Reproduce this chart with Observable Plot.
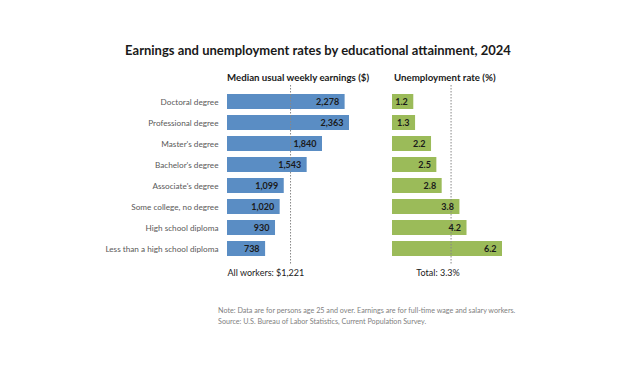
<!DOCTYPE html>
<html>
<head>
<meta charset="utf-8">
<script src="https://cdn.jsdelivr.net/npm/d3@7"></script>
<script src="https://cdn.jsdelivr.net/npm/@observablehq/plot@0.6"></script>
<style>
  html, body { margin: 0; padding: 0; background: #fff; }
  body { width: 636px; height: 376px; position: relative; overflow: hidden; font-family: Lato, "Open Sans", sans-serif; }
  .abs { position: absolute; white-space: nowrap; }
  #title { left: 0; width: 636px; top: 42px; text-align: center; font-weight: bold; font-size: 13px; color: #1a1a1a; }
  .head { top: 71px; font-weight: bold; font-size: 9.7px; color: #1a1a1a; }
  #note { left: 218px; top: 305px; font-size: 7.2px; color: #7f7f7f; line-height: 11px; }
  #left, #right { position: absolute; top: 85px; }
  #left { left: 0; }
  #right { left: 370px; }
</style>
</head>
<body>
<div id="title" class="abs">Earnings and unemployment rates by educational attainment, 2024</div>
<div class="abs head" style="left:227px">Median usual weekly earnings ($)</div>
<div class="abs head" style="left:394px">Unemployment rate (%)</div>
<div id="left"></div>
<div id="right"></div>
<div id="note" class="abs">Note: Data are for persons age 25 and over. Earnings are for full-time wage and salary workers.<br>Source: U.S. Bureau of Labor Statistics, Current Population Survey.</div>
<script>
const categories = ["Doctoral degree", "Professional degree", "Master's degree", "Bachelor's degree", "Associate's degree", "Some college, no degree", "High school diploma", "Less than a high school diploma"];
const earnings = [2278, 2363, 1840, 1543, 1099, 1020, 930, 738];
const unemployment = [1.2, 1.3, 2.2, 2.5, 2.8, 3.8, 4.2, 6.2];
const allWorkersEarnings = 1221;
const totalUnemployment = 3.3;

const rows = categories.map((c, i) => ({cat: c, earn: earnings[i], unemp: unemployment[i]}));
const fmt = d3.format(",");
const font = "Lato, 'Open Sans', sans-serif";

const left = Plot.plot({
  width: 370, height: 200,
  marginLeft: 227, marginRight: 21, marginTop: 0, marginBottom: 21,
  style: {fontFamily: font, fontSize: "8.2px", color: "#595959", background: "white"},
  x: {domain: [0, 2363], axis: null},
  y: {domain: categories, padding: 0.3, label: null, tickSize: 0, tickPadding: 9},
  marks: [
    Plot.barX(rows, {x: "earn", y: "cat", fill: "#5a8dc4"}),
    Plot.ruleX([allWorkersEarnings], {stroke: "#888", strokeDasharray: "1.5,1.5", strokeWidth: 1}),
    Plot.text(rows, {x: "earn", y: "cat", text: d => fmt(d.earn), textAnchor: "end", dx: -6, fontWeight: "bold", fill: "#1a1a1a", fontSize: 9}),
    Plot.text([allWorkersEarnings], {x: 0, frameAnchor: "bottom", dy: 11, text: d => "All workers: $" + fmt(d), textAnchor: "start", fill: "#1a1a1a", fontSize: 9})
  ]
});
document.getElementById("left").appendChild(left);

const right = Plot.plot({
  width: 266, height: 200,
  marginLeft: 22, marginRight: 134, marginTop: 0, marginBottom: 21,
  style: {fontFamily: font, fontSize: "8.5px", color: "#595959", background: "white"},
  x: {domain: [0, 6.2], axis: null},
  y: {domain: categories, padding: 0.3, axis: null},
  marks: [
    Plot.barX(rows, {x: "unemp", y: "cat", fill: "#9bbb59"}),
    Plot.ruleX([totalUnemployment], {stroke: "#888", strokeDasharray: "1.5,1.5", strokeWidth: 1}),
    Plot.text(rows, {x: "unemp", y: "cat", text: d => d.unemp.toFixed(1), textAnchor: "end", dx: -6, fontWeight: "bold", fill: "#1a1a1a", fontSize: 9}),
    Plot.text([totalUnemployment], {x: d => d, frameAnchor: "bottom", dy: 11, dx: -13, text: d => "Total: " + d + "%", textAnchor: "middle", fill: "#1a1a1a", fontSize: 9})
  ]
});
document.getElementById("right").appendChild(right);
</script>
</body>
</html>
